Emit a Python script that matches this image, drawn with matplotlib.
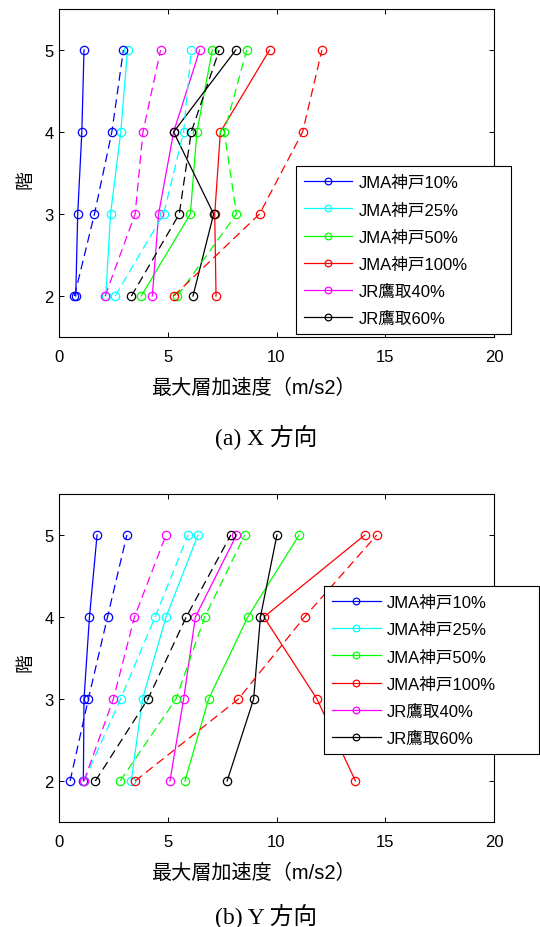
import matplotlib
matplotlib.use("Agg")
import matplotlib.pyplot as plt

plt.rcParams['font.family'] = ['Liberation Sans', 'Noto Sans CJK JP']

floors = [2, 3, 4, 5]
labels = ["JMA神戸10%", "JMA神戸25%", "JMA神戸50%", "JMA神戸100%", "JR鷹取40%", "JR鷹取60%"]
colors = ['#0000ff', '#00ffff', '#00ff00', '#ff0000', '#ff00ff', '#000000']

# X direction: peak floor acceleration (m/s2) at floors 2..5
x_solid = [
    [0.77, 0.86, 1.05, 1.15],
    [2.15, 2.37, 2.84, 3.15],
    [3.78, 6.04, 6.34, 7.05],
    [7.22, 7.16, 7.42, 9.68],
    [4.29, 4.58, 5.27, 6.47],
    [6.16, 7.11, 5.27, 8.13],
]
x_dashed = [
    [0.71, 1.63, 2.43, 2.96],
    [2.58, 4.81, 5.73, 6.08],
    [5.44, 8.16, 7.60, 8.63],
    [5.27, 9.22, 11.20, 12.09],
    [2.12, 3.50, 3.86, 4.67],
    [3.33, 5.53, 6.08, 7.37],
]

# Y direction
y_solid = [
    [1.12, 1.15, 1.40, 1.75],
    [3.32, 3.84, 4.92, 6.39],
    [5.79, 6.88, 8.68, 11.04],
    [13.63, 11.86, 9.42, 14.06],
    [5.10, 5.73, 6.27, 8.16],
    [7.73, 8.95, 9.26, 10.02],
]
y_dashed = [
    [0.51, 1.35, 2.23, 3.12],
    [1.15, 2.83, 4.42, 5.93],
    [2.81, 5.38, 6.70, 8.54],
    [3.50, 8.25, 11.29, 14.61],
    [1.15, 2.50, 3.47, 4.92],
    [1.67, 4.09, 5.85, 7.90],
]

W, H = 540, 928
fig = plt.figure(figsize=(W / 100, H / 100), dpi=100)


def panel(bottom_px, solid, dashed, leg_x0, leg_y0, caption, cap_y):
    ax = fig.add_axes([59 / W, 1 - bottom_px / H, 435 / W, 328 / H])
    for vals, lab, c in zip(solid, labels, colors):
        ax.plot(vals, floors, '-', color=c, lw=0.9, marker='o', ms=6,
                mfc='none', mew=0.9, label=lab)
    for vals, c in zip(dashed, colors):
        ax.plot(vals, floors, color=c, lw=0.9, marker='o', ms=6,
                mfc='none', mew=0.9, dashes=(7, 4))
    ax.set_xlim(0, 20)
    ax.set_ylim(1.5, 5.5)
    ax.set_xticks([0, 5, 10, 15, 20])
    ax.set_yticks([2, 3, 4, 5])
    ax.tick_params(direction='in', length=3.5, width=0.7, labelsize=12,
                   top=True, right=True, colors='black')
    ax.tick_params(axis='x', pad=8.5)
    ax.tick_params(axis='y', pad=4)
    for s in ax.spines.values():
        s.set_linewidth(0.8)

    ax.set_xlabel("最大層加速度（m/s2）", fontsize=14.5)
    ax.xaxis.set_label_coords((253 - 59) / 435, -50 / 328)
    ax.xaxis.label.set_va('center')
    ax.set_ylabel("階", fontsize=13.5)
    ax.yaxis.set_label_coords(-0.076, leg_y0[1])
    ax.yaxis.label.set_va('center')

    leg = ax.legend(loc='upper left', bbox_to_anchor=(leg_x0, leg_y0[0], 0.494, 0.0),
                    mode='expand', borderaxespad=0, fontsize=12, handlelength=2.9,
                    handletextpad=0.36, labelspacing=0.72, borderpad=0.5,
                    markerscale=0.8, fancybox=False, framealpha=1,
                    edgecolor='black')
    leg.get_frame().set_linewidth(0.8)
    fig.text(266 / W, 1 - cap_y / H, caption, ha='center', va='center',
             fontsize=17, family=['Liberation Serif', 'Noto Sans CJK JP'])
    return ax


panel(338, x_solid, x_dashed, 0.544, (0.521, 0.482), "(a) X 方向", 437)
panel(823, y_solid, y_dashed, 0.609, (0.720, 0.488), "(b) Y 方向", 916)

fig.savefig("out.png", dpi=100)
